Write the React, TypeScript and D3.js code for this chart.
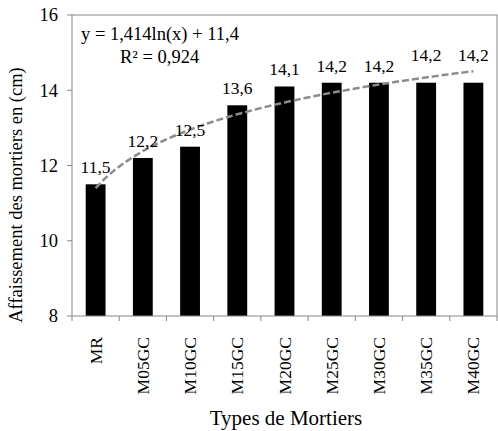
import React from 'react';
import * as d3 from 'd3';

// data
const categories = ['MR', 'M05GC', 'M10GC', 'M15GC', 'M20GC', 'M25GC', 'M30GC', 'M35GC', 'M40GC'];
const values = [11.5, 12.2, 12.5, 13.6, 14.1, 14.2, 14.2, 14.2, 14.2];
const valueLabels = ['11,5', '12,2', '12,5', '13,6', '14,1', '14,2', '14,2', '14,2', '14,2'];
const yTicks = [8, 10, 12, 14, 16];
// logarithmic trendline shown on the chart: y = a ln(x) + b
const trendCoef = [1.414, 11.4];
const trendLabel = ['y = 1,414ln(x) + 11,4', 'R² = 0,924'];
// extra lift for labels that sit on the trendline
const labelLift = [0, 0, 0, 0, 0, 0, 0, 11, 11];

const W = 498;
const H = 431;
const left = 72;
const right = 497;
const top = 15;
const bottom = 316;
const font = "'Liberation Serif', 'DejaVu Serif', serif";

export default function App() {
  const x = d3.scaleBand<string>().domain(categories).range([left, right]).padding(0);
  const y = d3.scaleLinear().domain([8, 16]).range([bottom, top]);
  const bw = x.bandwidth() * 0.42;
  const step = x.step();
  const cx = (i: number) => (x(categories[i]) as number) + step / 2;

  const ts = d3.range(1, categories.length + 0.001, 0.2);
  const trend = d3
    .line<number>()
    .x((t) => cx(0) + (t - 1) * step)
    .y((t) => y(trendCoef[0] * Math.log(t) + trendCoef[1]))(ts);

  const boundaries = d3.range(categories.length + 1).map((i) => left + i * step);

  return (
    <svg width={W} height={H} style={{ position: 'absolute', left: 0, top: 0, fontFamily: font }}>
      <rect width={W} height={H} fill="#fff" />
      {categories.map((c, i) => (
        <rect key={c} x={cx(i) - bw / 2} y={y(values[i])} width={bw} height={bottom - y(values[i])} fill="#000" />
      ))}
      <rect x={left} y={top} width={right - left} height={bottom - top} fill="none" stroke="#868686" strokeWidth={1} />
      {yTicks.map((t) => (
        <g key={t}>
          <line x1={left - 5} x2={left} y1={y(t)} y2={y(t)} stroke="#868686" />
          <text x={58} y={y(t)} dy="0.35em" textAnchor="end" fontSize={18.5}>
            {t}
          </text>
        </g>
      ))}
      {boundaries.map((b, i) => (
        <line key={i} x1={b} x2={b} y1={bottom} y2={bottom + 5} stroke="#868686" />
      ))}
      <path d={trend ?? ''} fill="none" stroke="#8c8c8c" strokeWidth={2.5} strokeDasharray="7,3" />
      {categories.map((c, i) => (
        <text key={c} x={cx(i)} y={y(values[i]) - 11 - labelLift[i]} textAnchor="middle" fontSize={17.5}>
          {valueLabels[i]}
        </text>
      ))}
      {categories.map((c, i) => (
        <text
          key={c}
          transform={`translate(${cx(i) + 6},${337}) rotate(-90)`}
          textAnchor="end"
          fontSize={17.5}
        >
          {c}
        </text>
      ))}
      <text x={81} y={40} fontSize={18.5}>
        {trendLabel[0]}
      </text>
      <text x={120} y={63} fontSize={18.5}>
        {trendLabel[1]}
      </text>
      <text transform={`translate(22,195) rotate(-90)`} textAnchor="middle" fontSize={18.5}>
        Affaissement des mortiers en (cm)
      </text>
      <text x={286} y={425} textAnchor="middle" fontSize={21}>
        Types de Mortiers
      </text>
    </svg>
  );
}
